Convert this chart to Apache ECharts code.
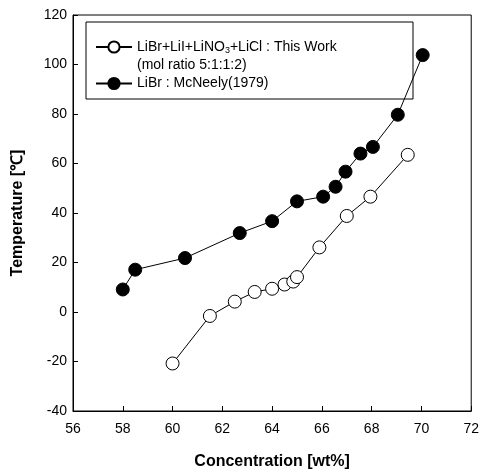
<!DOCTYPE html>
<html>
<head>
<meta charset="utf-8">
<script src="https://cdn.jsdelivr.net/npm/echarts@6/dist/echarts.min.js"></script>
<style>
  html, body { margin: 0; padding: 0; background: #fff; }
  #chart { width: 482px; height: 475px; }
</style>
</head>
<body>
<div id="chart"></div>
<script>
// This work: LiBr+LiI+LiNO3+LiCl (mol ratio 5:1:1:2)
const workConc = [60.0, 61.5, 62.5, 63.3, 64.0, 64.5, 64.85, 65.0, 65.9, 67.0, 67.95, 69.45];
const workTemp = [-20.8, -1.6, 4.2, 8.1, 9.4, 11.1, 12.3, 14.1, 26.1, 38.8, 46.6, 63.5];

// LiBr : McNeely(1979)
const mcConc = [58.0, 58.5, 60.5, 62.7, 64.0, 65.0, 66.05, 66.55, 66.95, 67.55, 68.05, 69.05, 70.05];
const mcTemp = [9.1, 17.1, 21.8, 31.9, 36.7, 44.7, 46.6, 50.6, 56.7, 64.0, 66.7, 79.7, 103.8];

const font = 'Liberation Sans, Arial, sans-serif';

function pairs(xs, ys) {
  return xs.map((x, i) => [x, ys[i]]);
}

const chart = echarts.init(document.getElementById('chart'), null, { renderer: 'canvas' });

const option = {
  backgroundColor: '#fff',
  animation: false,
  textStyle: { fontFamily: font, color: '#000' },
  grid: {
    left: 73, right: 10, top: 15, bottom: 62,
    show: true, borderColor: '#000', borderWidth: 1
  },
  xAxis: {
    type: 'value',
    min: 56, max: 72, interval: 2,
    name: 'Concentration [wt%]',
    nameLocation: 'middle',
    nameGap: 43,
    nameTextStyle: { fontFamily: font, fontSize: 16, fontWeight: 'bold', color: '#000' },
    axisLine: { show: true, onZero: false, lineStyle: { color: '#000', width: 1 } },
    axisTick: { show: true, inside: true, length: 5, lineStyle: { color: '#000' } },
    axisLabel: { fontFamily: font, fontSize: 14, color: '#000', margin: 11 },
    splitLine: { show: false }
  },
  yAxis: {
    type: 'value',
    min: -40, max: 120, interval: 20,
    name: 'Temperature [\u2103]',
    nameLocation: 'middle',
    nameGap: 47,
    nameTextStyle: { fontFamily: font, fontSize: 16, fontWeight: 'bold', color: '#000' },
    axisLine: { show: true, onZero: false, lineStyle: { color: '#000', width: 1 } },
    axisTick: { show: true, inside: true, length: 5, lineStyle: { color: '#000' } },
    axisLabel: { fontFamily: font, fontSize: 14, color: '#000', margin: 6 },
    splitLine: { show: false }
  },
  legend: {
    orient: 'vertical',
    left: 95, top: 40,
    itemWidth: 36, itemHeight: 14,
    itemGap: 21,
    padding: 0,
    data: ['work', 'mc'],
    formatter: function (name) {
      if (name === 'work') return 'LiBr+LiI+LiNO{sub|3}+LiCl : This Work';
      return 'LiBr : McNeely(1979)';
    },
    textStyle: {
      fontFamily: font, fontSize: 14, color: '#000',
      rich: { sub: { fontFamily: font, fontSize: 9, color: '#000', verticalAlign: 'bottom', padding: [8, 0, 0, 0] } }
    }
  },
  graphic: [
    {
      type: 'rect',
      shape: { x: 86, y: 22, width: 327, height: 77 },
      style: { fill: 'none', stroke: '#000', lineWidth: 1 },
      z: 100
    },
    {
      type: 'text',
      x: 137, y: 65,
      style: { text: '(mol ratio 5:1:1:2)', font: '14px ' + font, fill: '#000', textVerticalAlign: 'middle' },
      z: 100
    }
  ],
  series: [
    {
      name: 'mc',
      type: 'line',
      data: pairs(mcConc, mcTemp),
      symbol: 'circle',
      symbolSize: 13,
      lineStyle: { color: '#000', width: 1 },
      itemStyle: { color: '#000', borderColor: '#000', borderWidth: 1 }
    },
    {
      name: 'work',
      type: 'line',
      data: pairs(workConc, workTemp),
      symbol: 'circle',
      symbolSize: 13,
      lineStyle: { color: '#000', width: 1 },
      itemStyle: { color: '#fff', borderColor: '#000', borderWidth: 1 }
    }
  ]
};

chart.setOption(option);
</script>
</body>
</html>
